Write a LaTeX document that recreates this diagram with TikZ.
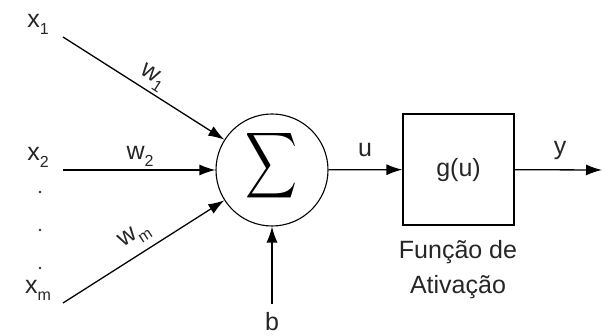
\documentclass[tikz,border=0pt]{standalone}
\usepackage{fontspec}
\setmainfont{Liberation Sans}
\usetikzlibrary{arrows.meta}
\newcommand\lsub[1]{\raisebox{-7pt}{\fontsize{16}{16}\selectfont #1}}
\begin{document}
\begin{tikzpicture}[x=1pt,y=-1pt,
  font=\fontsize{25}{25}\selectfont,
  arr/.style={line width=1.3pt,-{Latex[length=16pt,width=11pt]}},
  lbl/.style={inner sep=0pt,text=black!85},
  dotn/.style={circle,fill=black!80,inner sep=0pt,minimum size=2.6pt}]
\useasboundingbox (0,0) rectangle (602,336);
% summation and activation
\node[draw,circle,minimum size=112pt,line width=1.1pt,inner sep=0pt] (sum) at (272,170) {};
\node[inner sep=0pt] (sig) at (271,166) {\scalebox{3.6}[4.6]{$\displaystyle\sum$}};
\node[draw,minimum width=111pt,minimum height=111pt,line width=1.1pt,inner sep=0pt] (g) at (458.5,169.5) {};
\node[lbl] (gu) at (458.5,170) {g(u)};
\node[lbl,align=center,font=\fontsize{25}{35}\selectfont] (fa) at (458,270) {Função de\\Ativação};
% inputs
\node[lbl] (x1) at (38,24) {x\lsub{1}};
\node[lbl] (x2) at (38,157) {x\lsub{2}};
\node[lbl] (xm) at (38,290) {x\lsub{m}};
\node[dotn] (d1) at (40,192) {};
\node[dotn] (d2) at (40,230) {};
\node[dotn] (d3) at (40,268) {};
\coordinate (s1) at (63,37);
\coordinate (s2) at (63,170);
\coordinate (sm) at (63,303);
\draw[arr] (s1) -- (sum);
\draw[arr] (s2) -- (sum);
\draw[arr] (sm) -- (sum);
\node[lbl,rotate=-33] (w1) at (152,78) {w\lsub{1}};
\node[lbl] (w2) at (140,156) {w\lsub{2}};
\node[lbl,rotate=33] (wm) at (135,236) {w\lsub{m}};
% bias
\coordinate (bb) at (272,304);
\draw[arr] (bb) -- (sum);
\node[lbl] (b) at (272,322) {b};
% output
\draw[arr] (sum) -- (g);
\node[lbl] (u) at (365,150) {u};
\coordinate (out) at (602,170);
\draw[arr] (g) -- (out);
\node[lbl] (y) at (560,150) {y};
\end{tikzpicture}
\end{document}
